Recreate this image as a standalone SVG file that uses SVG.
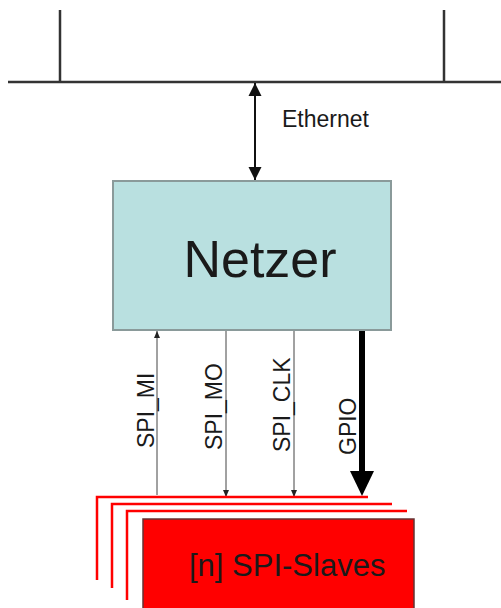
<svg xmlns="http://www.w3.org/2000/svg" width="501" height="608" viewBox="0 0 501 608">
<defs>
<style>
.txt{font-family:"Liberation Sans",Arial,sans-serif;fill:#1a1a1a}
.bus{stroke:#333;stroke-width:2.5;fill:none}
.thin{stroke:#444;stroke-width:1;fill:none}
.card{stroke:#ff0000;stroke-width:2.5;fill:none}
</style>
<marker id="ah" markerWidth="13" markerHeight="14" refX="13" refY="6.5" orient="auto-start-reverse" markerUnits="userSpaceOnUse" viewBox="0 0 13 13">
<path d="M0,0 L13,6.5 L0,13 z" fill="#111"/>
</marker>
<marker id="ahs" markerWidth="7" markerHeight="6" refX="7" refY="3" orient="auto" markerUnits="userSpaceOnUse" viewBox="0 0 7 6">
<path d="M0,0 L7,3 L0,6 z" fill="#222"/>
</marker>
</defs>
<rect width="501" height="608" fill="#ffffff"/>
<g id="network">
<line class="bus" x1="8" y1="82" x2="501" y2="82"/>
<line class="bus" x1="60" y1="10" x2="60" y2="82"/>
<line class="bus" x1="444" y1="10" x2="444" y2="82"/>
</g>
<g id="connectors">
<line x1="255" y1="83" x2="255" y2="180" stroke="#111" stroke-width="2" marker-start="url(#ah)" marker-end="url(#ah)"/>
<line class="thin" x1="157" y1="495" x2="157" y2="331" marker-end="url(#ahs)"/>
<line class="thin" x1="226" y1="331" x2="226" y2="497" marker-end="url(#ahs)"/>
<line class="thin" x1="294" y1="331" x2="294" y2="497" marker-end="url(#ahs)"/>
<line x1="362" y1="331" x2="362" y2="472" stroke="#000" stroke-width="6"/>
<path d="M350,471 L374,471 L362,496 z" fill="#000"/>
</g>
<g id="labels">
<text class="txt" x="282" y="127" font-size="23">Ethernet</text>
<text class="txt" font-size="23" transform="translate(154,448) rotate(-90)">SPI_MI</text>
<text class="txt" font-size="23" transform="translate(222,450) rotate(-90)">SPI_MO</text>
<text class="txt" font-size="23" transform="translate(290,452) rotate(-90)">SPI_CLK</text>
<text class="txt" font-size="23" transform="translate(356,455) rotate(-90)">GPIO</text>
</g>
<g id="netzer">
<rect x="113" y="181" width="278" height="149" fill="#b9e0e0" stroke="#8a9a9a" stroke-width="2"/>
<text class="txt" x="260" y="277" font-size="52" text-anchor="middle">Netzer</text>
</g>
<g id="slaves">
<path class="card" d="M97,580 L97,497 L368,497"/>
<path class="card" d="M112,588 L112,504 L392,504"/>
<path class="card" d="M127,600 L127,511 L407,511"/>
<rect x="143" y="519" width="271" height="95" fill="#ff0000" stroke="#663333" stroke-width="1.5"/>
<text class="txt" x="189" y="576" font-size="31">[n] SPI-Slaves</text>
</g>
</svg>
